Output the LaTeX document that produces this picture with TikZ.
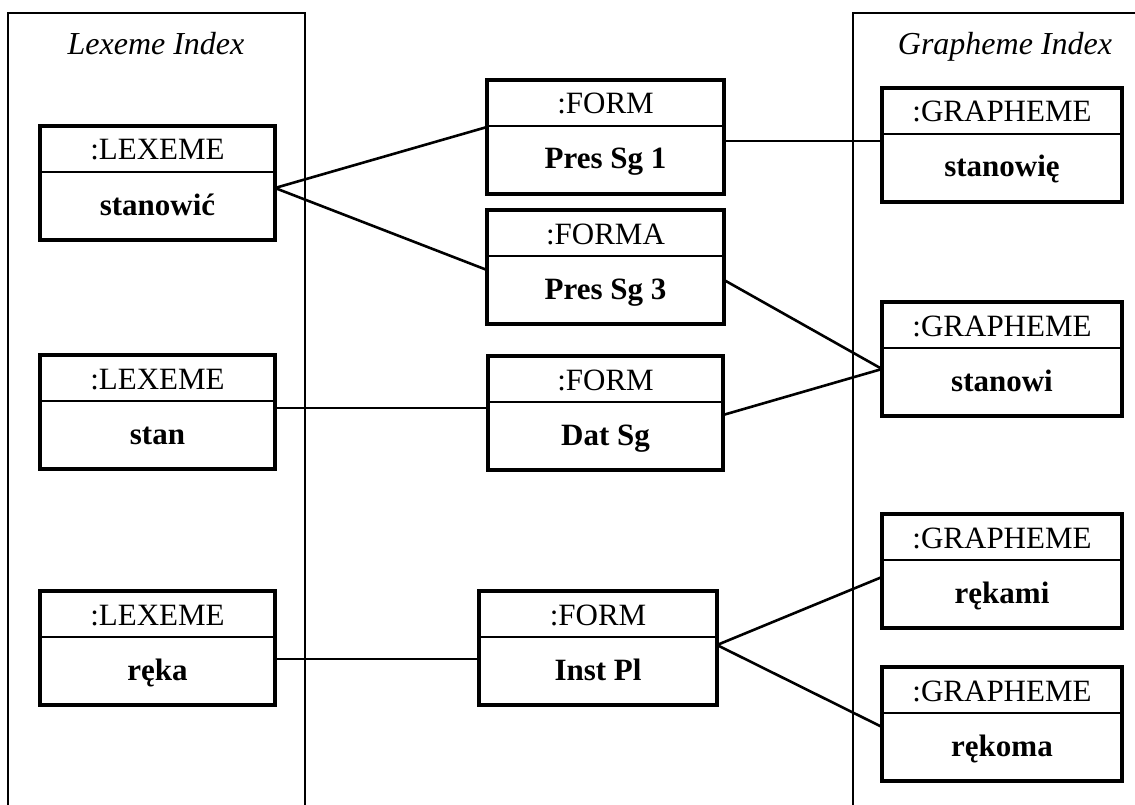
\documentclass[tikz,border=0pt]{standalone}
\usepackage{fontspec}
\setmainfont{Liberation Serif}
\usetikzlibrary{calc}
\tikzset{
  objbox/.style={draw, line width=4.8pt, minimum height=114pt, anchor=north west,
                 inner sep=0pt, outer sep=0pt},
  objrule/.style={line width=2pt},
  hdrtext/.style={anchor=base, font=\fontsize{31}{37}\selectfont, inner sep=0pt},
  bodytext/.style={anchor=base, font=\fontsize{31}{37}\selectfont\bfseries, inner sep=0pt},
  link/.style={line width=2.6pt},
  panel/.style={line width=2.2pt},
  paneltitle/.style={anchor=base, font=\fontsize{32}{38}\selectfont\itshape, inner sep=0pt}
}
% object box: name, left x, top y, width, class header, bold value
\newcommand\umlobj[6]{%
  \node[objbox, minimum width=#4pt] (#1) at (#2,#3) {};
  \draw[objrule] ($(#1.north west)+(0,46)$) -- ($(#1.north east)+(0,46)$);
  \node[hdrtext] (#1-h) at ($(#1.north)+(0,34)$) {#5};
  \node[bodytext] (#1-b) at ($(#1.north)+(0,89)$) {#6};
}
\begin{document}
\begin{tikzpicture}[x=1pt, y=-1pt]
  \useasboundingbox (0,0) rectangle (1135,805);

  % index panels
  \draw[panel] (8,805) -- (8,13) -- (305,13) -- (305,805);
  \draw[panel] (853,805) -- (853,13) -- (1135,13);
  \node[paneltitle] (lexidx) at (156,55) {Lexeme Index};
  \node[paneltitle] (graidx) at (1005,55) {Grapheme Index};

  % lexemes
  \umlobj{lex1}{40}{126}{235}{:LEXEME}{stanowić}
  \umlobj{lex2}{40}{355}{235}{:LEXEME}{stan}
  \umlobj{lex3}{40}{591}{235}{:LEXEME}{ręka}

  % forms
  \umlobj{form1}{487}{80}{237}{:FORM}{Pres Sg 1}
  \umlobj{form2}{487}{210}{237}{:FORMA}{Pres Sg 3}
  \umlobj{form3}{488}{356}{235}{:FORM}{Dat Sg}
  \umlobj{form4}{479}{591}{238}{:FORM}{Inst Pl}

  % graphemes
  \umlobj{gr1}{882}{88}{240}{:GRAPHEME}{stanowię}
  \umlobj{gr2}{882}{302}{240}{:GRAPHEME}{stanowi}
  \umlobj{gr3}{882}{514}{240}{:GRAPHEME}{rękami}
  \umlobj{gr4}{882}{667}{240}{:GRAPHEME}{rękoma}

  % links
  \draw[link] ($(lex1.north east)+(0,62)$) -- ($(form1.north west)+(0,47)$);
  \draw[link] ($(lex1.north east)+(0,62)$) -- ($(form2.north west)+(0,60)$);
  \draw[link] ($(form1.north east)+(0,61)$) -- ($(gr1.north west)+(0,53)$);
  \draw[link] ($(form2.north east)+(0,70)$) -- ($(gr2.north west)+(0,67)$);
  \draw[link] ($(form3.north east)+(0,59)$) -- ($(gr2.north west)+(0,67)$);
  \draw[link] ($(lex2.north east)+(0,53)$) -- ($(form3.north west)+(0,52)$);
  \draw[link] ($(lex3.north east)+(0,68)$) -- ($(form4.north west)+(0,68)$);
  \draw[link] ($(form4.north east)+(0,54)$) -- ($(gr3.north west)+(0,63)$);
  \draw[link] ($(form4.north east)+(0,54)$) -- ($(gr4.north west)+(0,60)$);
\end{tikzpicture}
\end{document}
